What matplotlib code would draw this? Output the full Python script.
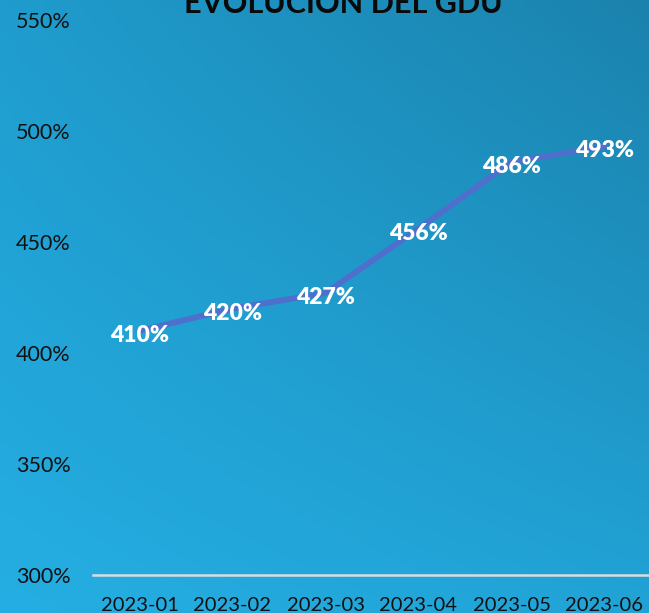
import numpy as np
import matplotlib.pyplot as plt
from matplotlib.colors import to_rgb

# Data
months = ['2023-01', '2023-02', '2023-03', '2023-04', '2023-05', '2023-06']
gdu_pct = [410, 420, 427, 456, 486, 493]
y_ticks = [300, 350, 400, 450, 500, 550]

plt.rcParams['font.family'] = ['Lato', 'DejaVu Sans']

fig = plt.figure(figsize=(6.49, 6.13), dpi=100)

# Background gradient (bilinear between the four corner colours)
tl, tr = np.array(to_rgb('#1f9ccd')), np.array(to_rgb('#1b82ad'))
bl, br = np.array(to_rgb('#25aee3')), np.array(to_rgb('#21a3d6'))
h, w = 120, 120
yy, xx = np.mgrid[0:1:h * 1j, 0:1:w * 1j]
yy, xx = yy[..., None], xx[..., None]
grad = (tl * (1 - xx) * (1 - yy) + tr * xx * (1 - yy)
        + bl * (1 - xx) * yy + br * xx * yy)
bg = fig.add_axes([0, 0, 1, 1], zorder=0)
bg.imshow(grad, aspect='auto', extent=[0, 1, 0, 1], interpolation='bilinear')
bg.axis('off')

ax = fig.add_axes([93 / 649, 38 / 613, 558 / 649, 555 / 613], zorder=1)
ax.patch.set_alpha(0)

x = np.arange(len(months))
ax.plot(x, gdu_pct, color='#4f6fcc', linewidth=4.2, solid_capstyle='round')

for xi, v in zip(x, gdu_pct):
    ax.text(xi, v - 2, f'{v}%', color='white', fontsize=16.5, fontweight='heavy',
            ha='center', va='center')

ax.set_xlim(-0.5, len(months) - 0.5)
ax.set_ylim(300, 550)
ax.set_yticks(y_ticks)
ax.set_yticklabels([f'{t}%' for t in y_ticks])
ax.set_xticks(x)
ax.set_xticklabels(months)
ax.tick_params(axis='both', length=0, colors='#111111')
ax.tick_params(axis='y', pad=16, labelsize=15.5)
ax.tick_params(axis='x', pad=16, labelsize=14.5)

for s in ['top', 'right', 'left']:
    ax.spines[s].set_visible(False)
ax.spines['bottom'].set_color('#dcdcdc')
ax.spines['bottom'].set_linewidth(1.8)

fig.text(343 / 649, 1 - 13 / 613, 'EVOLUCIÓN DEL GDU', ha='center',
         va='baseline', fontsize=22, fontweight='bold', color='#0a0a0a')

fig.savefig('out.png', dpi=100)
